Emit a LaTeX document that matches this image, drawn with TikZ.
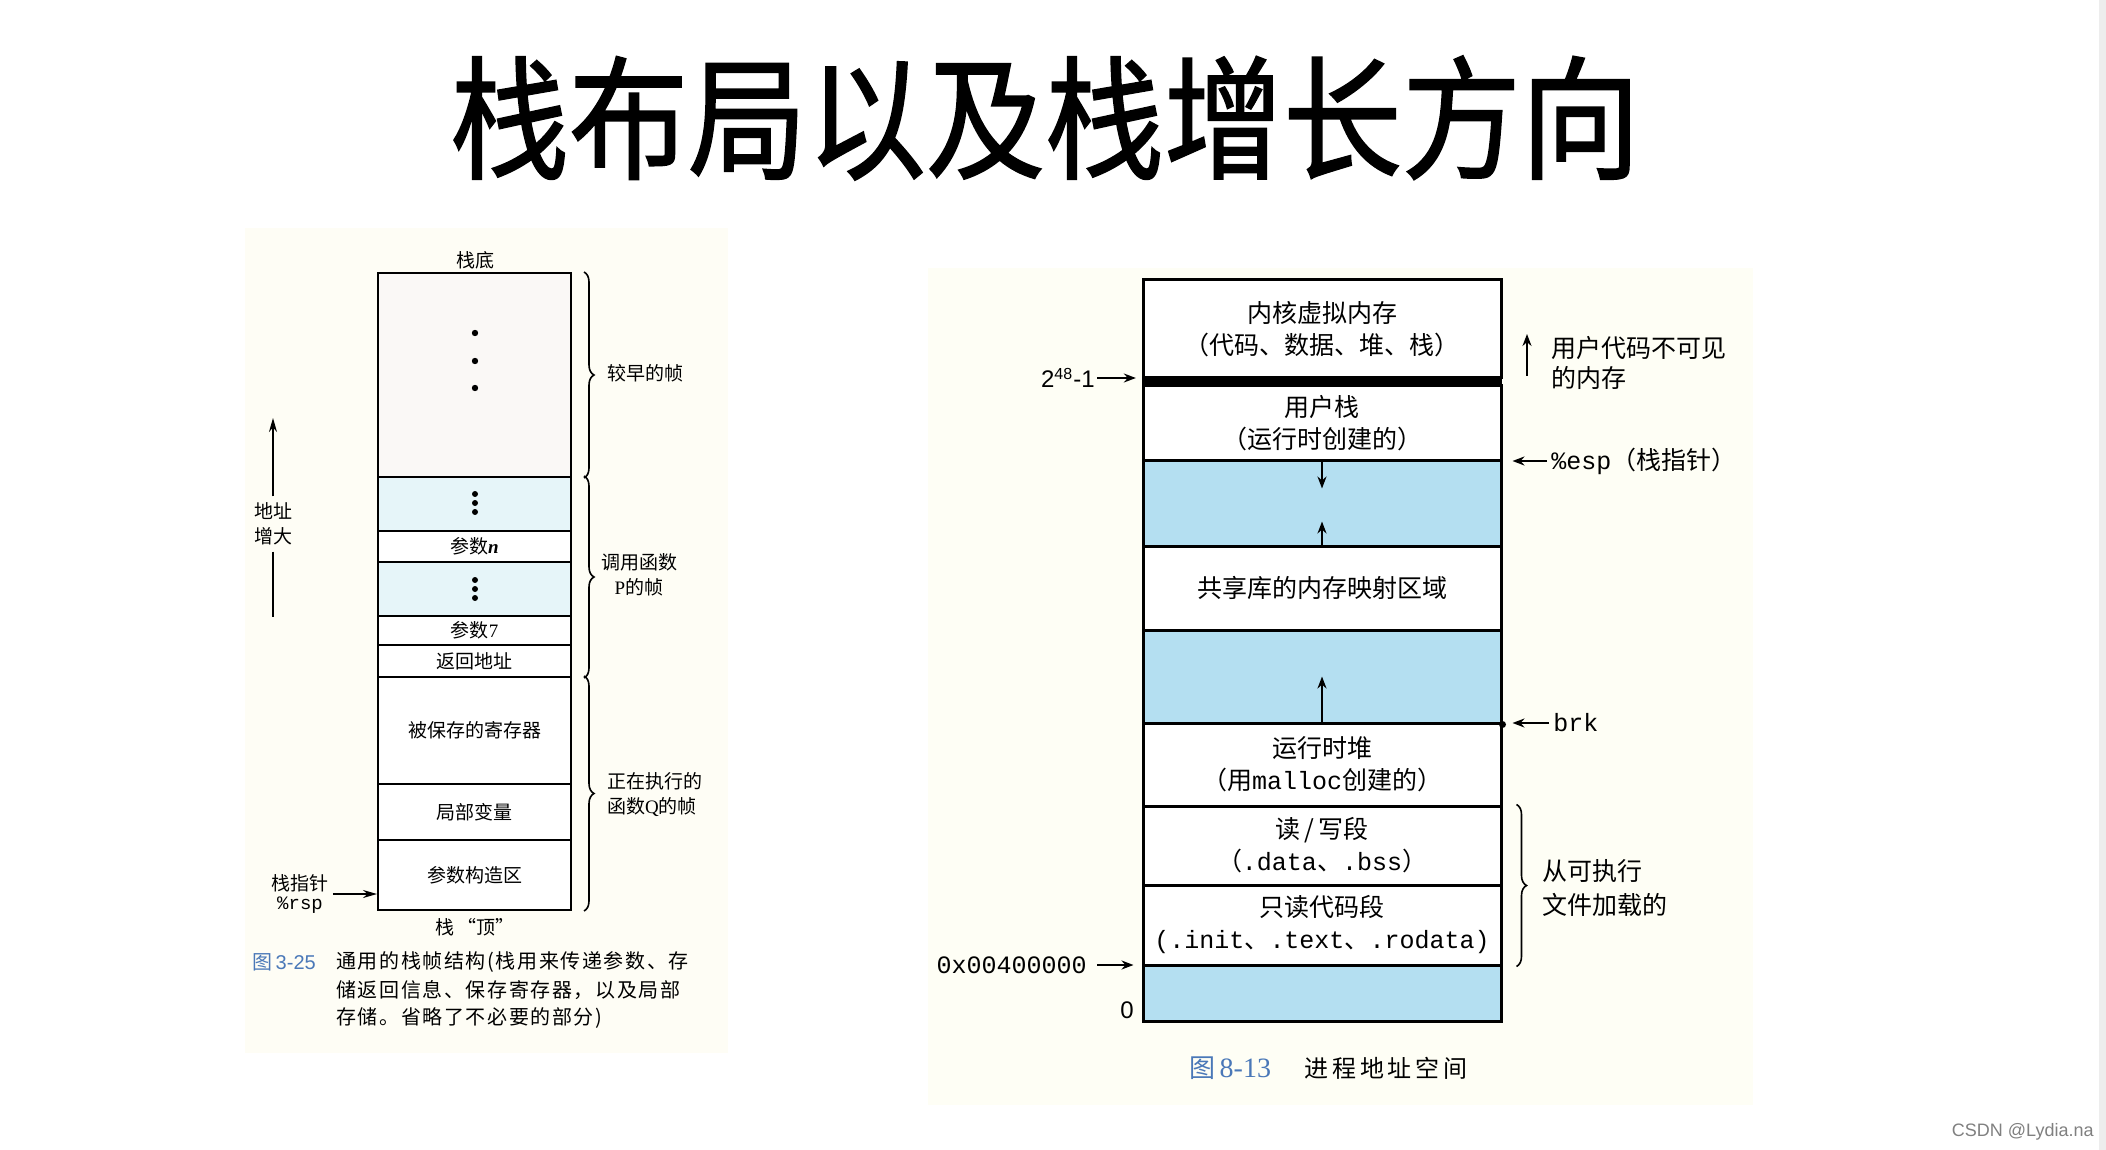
\documentclass[tikz,border=0pt]{standalone}
\usepackage{graphicx}
\usepackage{fontspec}
\setmainfont{Noto Sans CJK SC}
\setmonofont{Liberation Mono}
\newfontfamily\latser{Liberation Serif}
\newfontfamily\latsans{Liberation Sans}
\newfontfamily\cjksp[LetterSpace=8]{Noto Sans CJK SC}
\newfontfamily\cjkwide[LetterSpace=16]{Noto Sans CJK SC}
\newfontfamily\cjktitle[FakeBold=1.4]{Noto Sans CJK SC}
\usetikzlibrary{arrows.meta,decorations.pathreplacing}
\newcommand\myfs[2]{\fontsize{#1}{#2}\selectfont}
\definecolor{panelL}{HTML}{FEFDF5}
\definecolor{panelR}{HTML}{FEFEF5}
\definecolor{earlyc}{HTML}{FAF8F6}
\definecolor{lblue}{HTML}{E6F5F9}
\definecolor{rblue}{HTML}{B4DFF1}
\definecolor{capblue}{HTML}{4A78B8}
\begin{document}
\begin{tikzpicture}[x=0.5pt,y=-0.5pt,
  lrow/.style={draw, line width=1pt, minimum width=96.5pt, inner sep=0pt, font={\myfs{9.5pt}{11pt}}},
  rrow/.style={draw, line width=1.5pt, minimum width=179pt, inner sep=0pt, fill=white, align=center, font={\myfs{12.5pt}{16pt}}},
  brc/.style={decorate, decoration={brace, amplitude=5pt}, line width=0.8pt},
  larr/.style={-{Stealth[length=7pt,width=4pt]}, line width=0.9pt},
  rarr/.style={-{Stealth[length=6pt,width=4.5pt]}, line width=1pt},
  lbl/.style={font={\myfs{9.5pt}{12.5pt}}},
  rlbl/.style={font={\myfs{12.5pt}{15pt}}}]
\useasboundingbox (0,0) rectangle (2106,1150);
\fill[white] (0,0) rectangle (2106,1150);
\fill[black!7] (2099,0) rectangle (2106,1150);
\fill[panelL] (245,228) rectangle (728,1053);
\fill[panelR] (928,268) rectangle (1753,1105);

% title
\node[font={\cjktitle\myfs{59.5pt}{60pt}}] (title) at (1045,118) {\scalebox{1}[1.12]{栈布局以及栈增长方向}};

% ===== left diagram =====
\node[lrow, fill=earlyc, minimum height=102pt] (early) at (474.5,375) {};
\node[lrow, fill=lblue, minimum height=27pt] (lb1) at (474.5,504) {};
\node[lrow, fill=white, minimum height=15.5pt] (argn) at (474.5,546.5) {参数{\latser\bfseries\itshape n}};
\node[lrow, fill=lblue, minimum height=27pt] (lb2) at (474.5,589) {};
\node[lrow, fill=white, minimum height=14.5pt] (arg7) at (474.5,630.5) {参数{\latser 7}};
\node[lrow, fill=white, minimum height=16pt] (ret) at (474.5,661) {返回地址};
\node[lrow, fill=white, minimum height=53.5pt] (saved) at (474.5,730.5) {被保存的寄存器};
\node[lrow, fill=white, minimum height=28pt] (local) at (474.5,812) {局部变量};
\node[lrow, fill=white, minimum height=35pt] (argb) at (474.5,875) {参数构造区};

\foreach \yy in {333,361,388} \fill (475,\yy) circle[radius=3.2];
\foreach \yy in {494,503,512} \fill (475,\yy) circle[radius=3];
\foreach \yy in {580,589,598} \fill (475,\yy) circle[radius=3];

\node[lbl] (bottom) at (475,260) {栈底};
\node[lbl] (top) at (475,927) {栈\,“顶”};

\draw[brc] ([xshift=6pt]early.north east) -- ([xshift=6pt]early.south east);
\draw[brc] ([xshift=6pt]lb1.north east) -- ([xshift=6pt]ret.south east);
\draw[brc] ([xshift=6pt]saved.north east) -- ([xshift=6pt]argb.south east);
\node[lbl, anchor=west] (earlylbl) at (600,373) {较早的帧};
\node[lbl, align=center] (plbl) at (639,575) {调用函数\\{\latser P}的帧};
\node[lbl, anchor=west, align=left] (qlbl) at (600,795) {正在执行的\\函数{\latser Q}的帧};

\node[lbl, align=center, inner sep=3pt] (addr) at (273,524) {地址\\增大};
\coordinate (addrtip) at (273,418);
\coordinate (addrbot) at (273,617);
\draw[larr] (addr.north) -- (addrtip);
\draw[line width=0.9pt] (addr.south) -- (addrbot);

\node[align=center, inner sep=2pt, font={\myfs{9.5pt}{9.5pt}}] (sp) at (300,894) {栈指针\\{\ttfamily\%rsp}};
\draw[larr] (sp.east) -- (sp.east -| argb.west);

\node[anchor=west, inner sep=0pt, text=capblue, font={\myfs{10pt}{12pt}}] (cap1a) at (252,962) {图\,{\latsans 3-25}};
\node[anchor=west, inner sep=0pt, font={\cjksp\myfs{10pt}{12pt}}] (cap1b) at (336,962) {通用的栈帧结构(栈用来传递参数、存};
\node[anchor=west, inner sep=0pt, font={\cjksp\myfs{10pt}{12pt}}] (cap1c) at (336,990) {储返回信息、保存寄存器，以及局部};
\node[anchor=west, inner sep=0pt, font={\cjksp\myfs{10pt}{12pt}}] (cap1d) at (336,1018) {存储。省略了不必要的部分)};

% ===== right diagram =====
\node[rrow, minimum height=49pt] (kern) at (1322,329) {内核虚拟内存\\（代码、数据、堆、栈）};
\node[rrow, minimum height=37pt] (ustack) at (1322,423) {用户栈\\（运行时创建的）};
\node[rrow, fill=rblue, minimum height=43pt] (rb1) at (1322,503) {};
\node[rrow, minimum height=42pt] (shlib) at (1322,588) {共享库的内存映射区域};
\node[rrow, fill=rblue, minimum height=46.5pt] (rb2) at (1322,676.5) {};
\node[rrow, minimum height=41.5pt] (heap) at (1322,764.5) {运行时堆\\（用{\ttfamily malloc}创建的）};
\node[rrow, minimum height=39.5pt] (rw) at (1322,845.5) {读\,/\,写段\\（{\ttfamily .data}、{\ttfamily .bss}）};
\node[rrow, minimum height=40pt] (ro) at (1322,925) {只读代码段\\{\ttfamily(.init}、{\ttfamily .text}、{\ttfamily .rodata)}};
\node[rrow, fill=rblue, minimum height=28pt] (rb3) at (1322,993) {};
\node[fill=black, minimum width=179.75pt, minimum height=4.5pt, inner sep=0pt] (bar) at (1322,382) {};

\draw[rarr] (ustack.south) -- ++(0,27);
\draw[rarr] (shlib.north) -- ++(0,-23);
\draw[rarr] (heap.north) -- ++(0,-45);

\node[anchor=east, inner sep=1pt, font={\latsans\myfs{12pt}{14pt}}] (l248) at (1097,378) {2\textsuperscript{48}-1};
\draw[rarr, shorten >=3pt] (l248.east) -- (l248.east -| bar.west);
\node[anchor=east, inner sep=1pt, font={\ttfamily\myfs{12.5pt}{14pt}}] (l04) at (1089,965) {0x00400000};
\draw[rarr, shorten >=4pt] ([xshift=4pt]l04.east) -- (l04.east -| rb3.west);
\node[font={\latsans\myfs{12pt}{14pt}}] (l0) at (1127,1010) {0};

\coordinate (invbot) at (1527,376);
\coordinate (invtop) at (1527,334);
\draw[rarr] (invbot) -- (invtop);
\node[rlbl, anchor=west, align=left, inner sep=0pt] (inv) at (1551,363) {用户代码不可见\\的内存};

\node[rlbl, anchor=west, inner sep=2pt] (esp) at (1547,461) {{\ttfamily\%esp}（栈指针）};
\draw[rarr, shorten >=5pt] (esp.west) -- (esp.west -| rb1.east);
\node[rlbl, anchor=west, inner sep=2pt, font={\ttfamily\myfs{12.5pt}{15pt}}] (brk) at (1549,723) {brk};
\draw[rarr, shorten >=5pt] (brk.west) -- (brk.west -| rb2.east);
\fill (rb2.south east) circle[radius=3.5];

\draw[brc] ([xshift=7pt]rw.north east) -- ([xshift=7pt]ro.south east);
\node[anchor=west, align=left, inner sep=0pt, font={\myfs{12.5pt}{17pt}}] (exe) at (1542,888) {从可执行\\文件加载的};

\node[anchor=west, inner sep=0pt, text=capblue, font={\myfs{13pt}{15pt}}] (cap2a) at (1189,1068) {图\,{\latser\myfs{14pt}{15pt}8-13}};
\node[anchor=west, inner sep=0pt, font={\cjkwide\myfs{12pt}{15pt}}] (cap2b) at (1304,1068) {进程地址空间};

\node[anchor=east, inner sep=0pt, text=black!50, font={\latsans\myfs{9pt}{10pt}}] (wm) at (2094,1132) {CSDN @Lydia.na};
\end{tikzpicture}
\end{document}
